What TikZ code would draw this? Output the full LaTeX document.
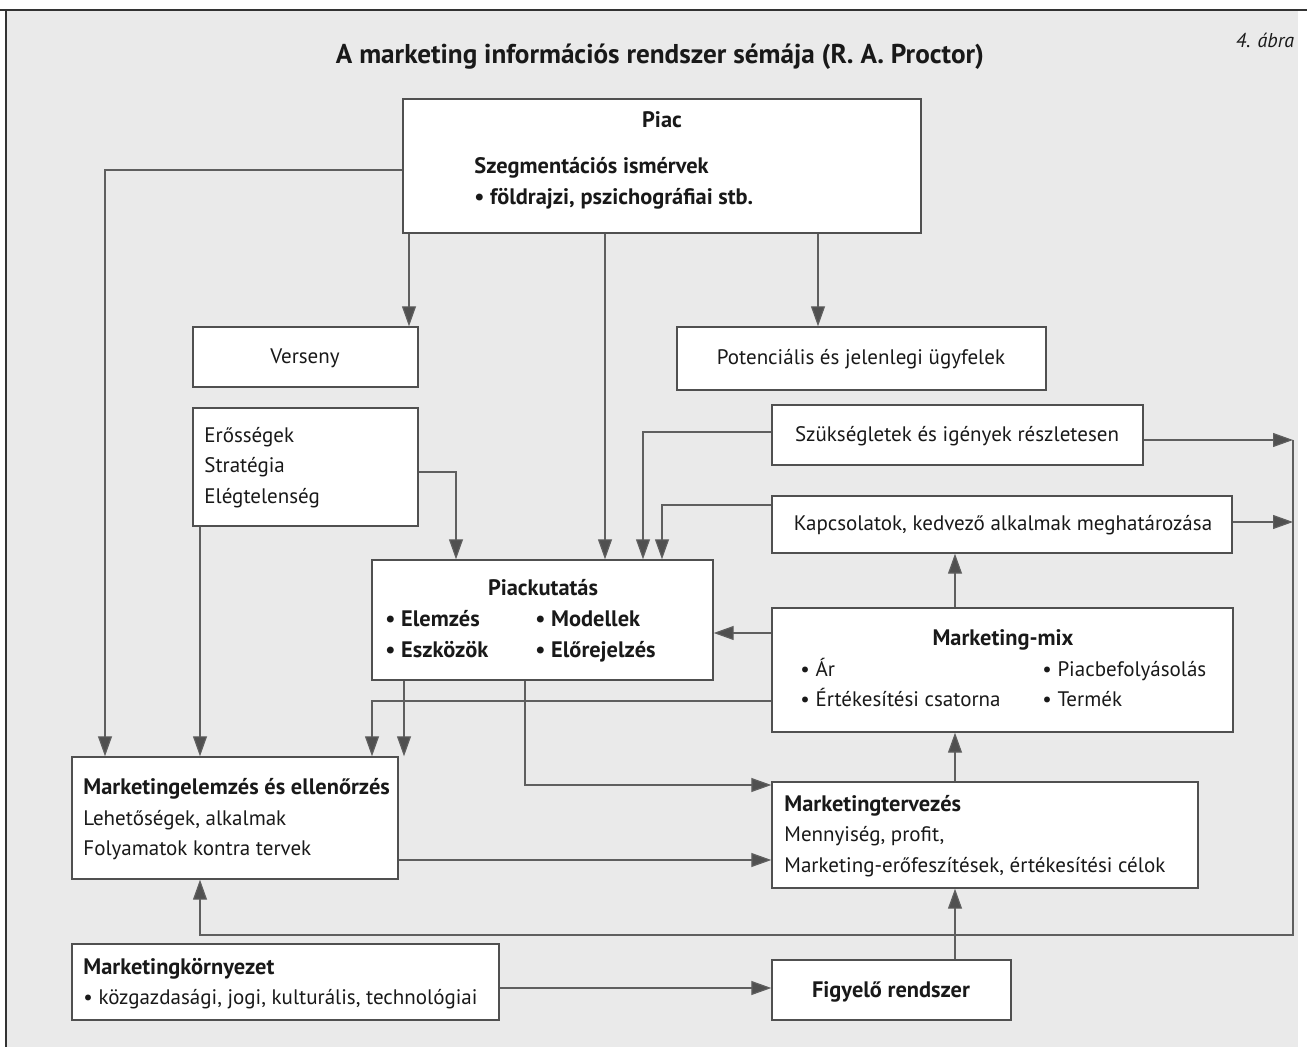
\documentclass[tikz,border=0pt]{standalone}
\usepackage{fontspec}
\setmainfont{PT Sans}
\usetikzlibrary{arrows.meta,fit}
\definecolor{bg}{RGB}{234,234,234}
\definecolor{ln}{RGB}{95,95,95}
\definecolor{bd}{RGB}{80,80,80}
\definecolor{tx}{RGB}{25,25,25}
\tikzset{
  x=0.5pt, y=-0.5pt,
  box/.style={draw=bd, line width=0.7pt, fill=white, inner sep=0pt},
  conn/.style={draw=ln, line width=0.6pt},
  arr/.style={conn, -{Triangle[length=10pt,width=7pt,fill=bd]}},
  lt/.style={anchor=base west, inner sep=0pt, text=tx, font=\fontsize{10.5}{12}\selectfont},
  ct/.style={anchor=base, inner sep=0pt, text=tx, font=\fontsize{10.5}{12}\selectfont},
  bt/.style={font=\fontsize{11.2}{13}\selectfont\bfseries}
}
\begin{document}
\begin{tikzpicture}
\useasboundingbox (0,0) rectangle (1307,1047);
\fill[white] (0,0) rectangle (1307,1047);
\fill[bg] (6,10) rectangle (1298,1047);
\draw[line width=0.8pt, black!80] (0,10) -- (1307,10);
\draw[line width=0.8pt, black!80] (6,10) -- (6,1047);

% title
\node[ct, font=\fontsize{13.6}{15}\selectfont\bfseries] (title) at (660,64) {A marketing információs rendszer sémája (R. A. Proctor)};
\node[ct, font=\fontsize{10}{12}\selectfont\itshape] (abra) at (1265,48) {4. ábra};

% boxes
\node[box, fit={(403,99) (921,233)}] (piac) {};
\node[box, fit={(193,327) (418,387)}] (vers) {};
\node[box, fit={(677,327) (1046,390)}] (pot) {};
\node[box, fit={(193,408) (418,526)}] (eros) {};
\node[box, fit={(772,405) (1143,465)}] (szuk) {};
\node[box, fit={(772,496) (1232,553)}] (kap) {};
\node[box, fit={(372,560) (713,680)}] (pk) {};
\node[box, fit={(772,608) (1233,732)}] (mix) {};
\node[box, fit={(72,757) (398,879)}] (elemz) {};
\node[box, fit={(772,782) (1198,888)}] (terv) {};
\node[box, fit={(72,944) (499,1020)}] (korny) {};
\node[box, fit={(772,960) (1011,1020)}] (figy) {};

% texts
\node[ct, bt] (t1) at (662,128) {Piac};
\node[lt, bt] (t2) at (474,174) {Szegmentációs ismérvek};
\node[lt, bt] (t3) at (474,205) {• földrajzi, pszichográfiai stb.};
\node[ct] (t4) at (305,364) {Verseny};
\node[ct] (t5) at (861,365) {Potenciális és jelenlegi ügyfelek};
\node[lt] (t6) at (204,443) {Erősségek};
\node[lt] (t7) at (204,473) {Stratégia};
\node[lt] (t8) at (204,504) {Elégtelenség};
\node[ct] (t9) at (957,442) {Szükségletek és igények részletesen};
\node[ct] (t10) at (1003,531) {Kapcsolatok, kedvező alkalmak meghatározása};
\node[ct, bt] (t11) at (543,596) {Piackutatás};
\node[lt, bt] (t12) at (385,627) {• Elemzés};
\node[lt, bt] (t13) at (535,627) {• Modellek};
\node[lt, bt] (t14) at (385,658) {• Eszközök};
\node[lt, bt] (t15) at (535,658) {• Előrejelzés};
\node[ct, bt] (t16) at (1003,646) {Marketing-mix};
\node[lt] (t17) at (800,677) {• Ár};
\node[lt] (t18) at (1042,677) {• Piacbefolyásolás};
\node[lt] (t19) at (800,707) {• Értékesítési csatorna};
\node[lt] (t20) at (1042,707) {• Termék};
\node[lt, bt] (t21) at (83,794) {Marketingelemzés és ellenőrzés};
\node[lt] (t22) at (83,825) {Lehetőségek, alkalmak};
\node[lt] (t23) at (83,855) {Folyamatok kontra tervek};
\node[lt, bt] (t24) at (784,811) {Marketingtervezés};
\node[lt] (t25) at (784,841) {Mennyiség, profit,};
\node[lt] (t26) at (784,872) {Marketing-erőfeszítések, értékesítési célok};
\node[lt, bt] (t27) at (83,974) {Marketingkörnyezet};
\node[lt] (t28) at (83,1004) {• közgazdasági, jogi, kulturális, technológiai};
\node[ct, bt] (t29) at (891,997) {Figyelő rendszer};

% helper coordinates
\coordinate (p1) at (105,170);
\coordinate (p2) at (409,0);
\coordinate (p3) at (605,0);
\coordinate (p4) at (818,0);
\coordinate (p5) at (200,0);
\coordinate (p6) at (456,472);
\coordinate (p7) at (643,432);
\coordinate (p8) at (662,505);
\coordinate (p9) at (1293,440);
\coordinate (p10) at (1293,522);
\coordinate (p11) at (200,935);
\coordinate (p12) at (955,0);
\coordinate (p15) at (0,633);
\coordinate (p16) at (372,701);
\coordinate (p17) at (404,0);
\coordinate (p18) at (525,785);
\coordinate (p19) at (0,860);
\coordinate (p20) at (0,988);

% connectors
\draw[arr] (piac.west |- p1) -| (elemz.north -| p1);
\draw[arr] (piac.south -| p2) -- (vers.north -| p2);
\draw[arr] (piac.south -| p3) -- (pk.north -| p3);
\draw[arr] (piac.south -| p4) -- (pot.north -| p4);
\draw[arr] (eros.south -| p5) -- (elemz.north -| p5);
\draw[arr] (eros.east |- p6) -| (pk.north -| p6);
\draw[arr] (szuk.west |- p7) -| (pk.north -| p7);
\draw[arr] (kap.west |- p8) -| (pk.north -| p8);
\draw[arr] (szuk.east |- p9) -- (p9);
\draw[arr] (kap.east |- p10) -- (p10);
\draw[arr] (p9) |- (p11) -- (elemz.south -| p11);
\draw[arr] (mix.north -| p12) -- (kap.south -| p12);
\draw[arr] (terv.north -| p12) -- (mix.south -| p12);
\draw[arr] (figy.north -| p12) -- (terv.south -| p12);
\draw[arr] (mix.west |- p15) -- (pk.east |- p15);
\draw[arr] (mix.west |- p16) -| (elemz.north -| p16);
\draw[arr] (pk.south -| p17) -- (elemz.north -| p17);
\draw[arr] (pk.south -| p18) |- (terv.west |- p18);
\draw[arr] (elemz.east |- p19) -- (terv.west |- p19);
\draw[arr] (korny.east |- p20) -- (figy.west |- p20);
\end{tikzpicture}
\end{document}
